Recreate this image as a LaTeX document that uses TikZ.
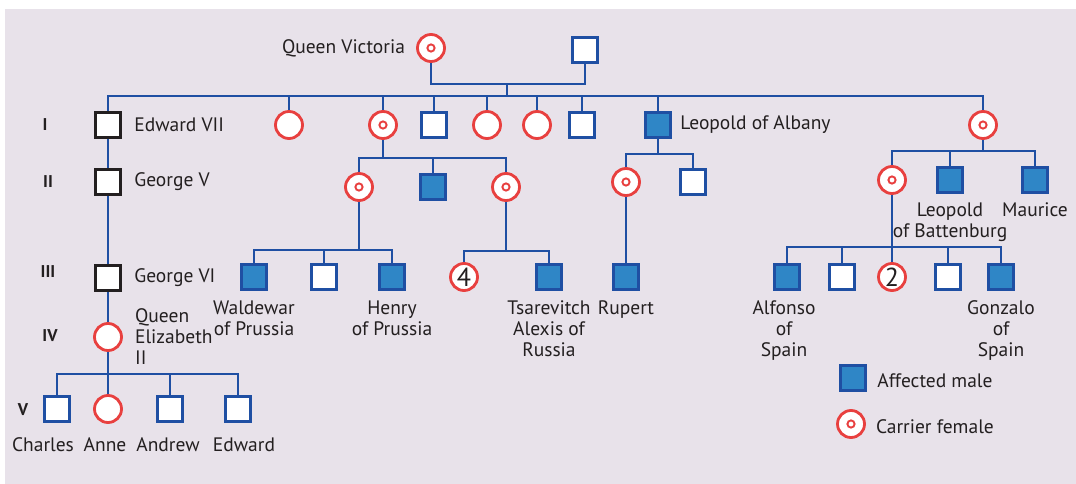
\documentclass[tikz,border=0pt]{standalone}
\usepackage{fontspec}
\setmainfont{PT Sans}
\usetikzlibrary{positioning}

\definecolor{bgpink}{HTML}{E8E2EA}
\definecolor{lineblue}{HTML}{1F4FA3}
\definecolor{fillblue}{HTML}{2F86C6}
\definecolor{redring}{HTML}{E8403F}
\definecolor{textdark}{HTML}{231F20}

\begin{document}
\begin{tikzpicture}[x=1pt, y=-1pt,
  link/.style={draw=lineblue, line width=2.8pt},
  male/.style={rectangle, draw=lineblue, fill=white, line width=2.8pt,
               minimum size=25.5pt, inner sep=0pt},
  king/.style={male, draw=textdark},
  sick/.style={male, fill=fillblue},
  fem/.style={circle, draw=redring, fill=white, line width=2.8pt,
              minimum size=27pt, inner sep=0pt},
  carrier/.style={fem, path picture={\draw[redring, line width=1.9pt]
              (path picture bounding box.center) circle (3.6pt);}},
  numfem/.style={fem, text=textdark, font=\fontsize{26}{26}\selectfont},
  lbl/.style={text=textdark, font=\fontsize{19.5}{21}\selectfont, inner sep=0pt, align=center},
  gen/.style={text=textdark, font=\fontsize{17}{20}\selectfont\bfseries, inner sep=0pt}
]
  \fill[bgpink] (5,9) rectangle (1076,484);
  \useasboundingbox (0,0) rectangle (1076,484);

  % generation numbers
  \node[gen] (genI) at (45,125) {I};
  \node[gen] (genII) at (48,182) {II};
  \node[gen] (genIII) at (48,272) {III};
  \node[gen] (genIV) at (50,336) {IV};
  \node[gen] (genV) at (23,410) {V};

  % Queen Victoria and Albert
  \node[carrier] (vic) at (431,48) {};
  \node[male] (albert) at (585,50) {};
  \node[lbl, left=11pt of vic] (vicl) {Queen Victoria};

  % generation I
  \node[king] (edw) at (108,125) {};
  \node[fem] (vicky) at (289,125) {};
  \node[carrier] (alice) at (383,125) {};
  \node[male] (alfred) at (434,125) {};
  \node[fem] (helena) at (487,125) {};
  \node[fem] (louise) at (537,125) {};
  \node[male] (arthur) at (582,125) {};
  \node[sick] (leopold) at (658,125) {};
  \node[carrier] (beatrice) at (983,125) {};
  \node[lbl, right=12pt of edw] (edwl) {Edward VII};
  \node[lbl, right=8pt of leopold] (leopoldl) {Leopold of Albany};

  % generation II
  \node[king] (george5) at (108,182) {};
  \node[carrier] (irene) at (359,187) {};
  \node[sick] (fritz) at (433,187) {};
  \node[carrier] (alix) at (506,187) {};
  \node[carrier] (alicea) at (626,182) {};
  \node[male] (charlesed) at (693,182) {};
  \node[carrier] (ena) at (892,180) {};
  \node[sick] (leob) at (950,180) {};
  \node[sick] (maurice) at (1035,180) {};
  \node[lbl, right=12pt of george5] (george5l) {George V};
  \node[lbl, below=8pt of leob] (leobl) {Leopold\\of Battenburg};
  \node[lbl, below=8pt of maurice] (mauricel) {Maurice};

  % generation III
  \node[king] (george6) at (108,278) {};
  \node[sick] (waldemar) at (254,277) {};
  \node[male] (sigi) at (324,277) {};
  \node[sick] (henry) at (392,277) {};
  \node[numfem] (four) at (464,277) {4};
  \node[sick] (alexis) at (549,277) {};
  \node[sick] (rupert) at (626,277) {};
  \node[sick] (alfonso) at (787,277) {};
  \node[male] (infante) at (842,277) {};
  \node[numfem] (two) at (892,277) {2};
  \node[male] (jaime) at (948,277) {};
  \node[sick] (gonzalo) at (1001,277) {};
  \node[lbl, right=12pt of george6] (george6l) {George VI};
  \node[lbl, below=9pt of waldemar] (waldemarl) {Waldewar\\of Prussia};
  \node[lbl, below=9pt of henry] (henryl) {Henry\\of Prussia};
  \node[lbl, below=9pt of alexis] (alexisl) {Tsarevitch\\Alexis of\\Russia};
  \node[lbl, below=9pt of rupert] (rupertl) {Rupert};
  \node[lbl, below=9pt of alfonso, xshift=-3pt] (alfonsol) {Alfonso\\of\\Spain};
  \node[lbl, below=9pt of gonzalo] (gonzalol) {Gonzalo\\of\\Spain};

  % generation IV
  \node[fem] (liz) at (108,337) {};
  \node[lbl, align=left, right=12pt of liz] (lizl) {Queen\\Elizabeth\\II};

  % generation V
  \node[male] (charles) at (57,409) {};
  \node[fem] (anne) at (108,409) {};
  \node[male] (andrew) at (170,409) {};
  \node[male] (edward) at (238,409) {};
  \node[lbl, below=14pt of charles, xshift=-14pt] (charlesl) {Charles};
  \node[lbl, below=14pt of anne, xshift=-3pt] (annel) {Anne};
  \node[lbl, below=14pt of andrew, xshift=-2pt] (andrewl) {Andrew};
  \node[lbl, below=14pt of edward, xshift=6pt] (edwardl) {Edward};

  % key
  \node[sick] (keym) at (853,378) {};
  \node[lbl, right=10pt of keym, yshift=-3pt] (keyml) {Affected male};
  \node[carrier] (keyf) at (851,424) {};
  \node[lbl, right=10pt of keyf, yshift=-3pt] (keyfl) {Carrier female};

  % connectors
  \coordinate (wed) at (507,84);
  \coordinate (bar1) at (507,96);
  \draw[link] (vic) |- (wed) -| (albert);
  \draw[link] (wed) -- (bar1);
  \draw[link] (edw) |- (bar1) -| (beatrice);
  \foreach \c in {vicky,alice,alfred,helena,louise,arthur,leopold}
    \draw[link] (\c) -- (\c |- bar1);

  \coordinate (bar2a) at (383,158);
  \draw[link] (alice) -- (bar2a);
  \draw[link] (irene) |- (bar2a) -| (alix);
  \draw[link] (fritz) -- (fritz |- bar2a);

  \coordinate (bar2b) at (658,154);
  \draw[link] (leopold) -- (bar2b);
  \draw[link] (alicea) |- (bar2b) -| (charlesed);

  \coordinate (bar2c) at (983,151);
  \draw[link] (beatrice) -- (bar2c);
  \draw[link] (ena) |- (bar2c) -| (maurice);
  \draw[link] (leob) -- (leob |- bar2c);

  \coordinate (bar3a) at (359,250);
  \draw[link] (irene) -- (bar3a);
  \draw[link] (waldemar) |- (bar3a) -| (henry);
  \draw[link] (sigi) -- (sigi |- bar3a);

  \coordinate (bar3b) at (506,251);
  \draw[link] (alix) -- (bar3b);
  \draw[link] (four) |- (bar3b) -| (alexis);

  \draw[link] (alicea) -- (rupert);

  \coordinate (bar3c) at (892,247);
  \draw[link] (ena) -- (two);
  \draw[link] (alfonso) |- (bar3c) -| (gonzalo);
  \foreach \c in {infante,jaime}
    \draw[link] (\c) -- (\c |- bar3c);

  \draw[link] (edw) -- (george5);
  \draw[link] (george5) -- (george6);
  \draw[link] (george6) -- (liz);
  \coordinate (bar5) at (108,374);
  \draw[link] (liz) -- (bar5);
  \draw[link] (charles) |- (bar5) -| (edward);
  \foreach \c in {anne,andrew}
    \draw[link] (\c) -- (\c |- bar5);
\end{tikzpicture}
\end{document}
